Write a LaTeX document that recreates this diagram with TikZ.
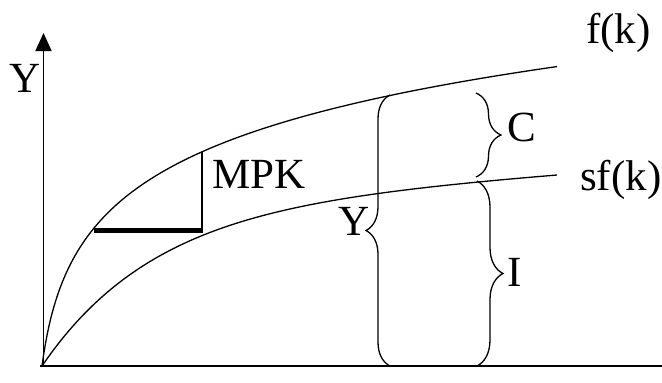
\documentclass[tikz,border=0pt]{standalone}
\usepackage{fontspec}
\setmainfont{Liberation Serif}
\usetikzlibrary{arrows.meta,decorations.pathreplacing}
\begin{document}
\begin{tikzpicture}[x=1pt,y=-1pt,
  curve/.style={line width=1.3pt},
  axisline/.style={line width=1.8pt},
  lbl/.style={inner sep=0pt,font=\fontsize{43}{50}\selectfont},
  bracedec/.style={line width=1.3pt, decorate, decoration={brace, amplitude=#1}},
]
\useasboundingbox (0,0) rectangle (662,383);
% axes
\coordinate (O) at (43.5,366);
\coordinate (ytip) at (43.5,33);
\coordinate (xstart) at (40,366);
\coordinate (xend) at (662,366);
\draw[axisline,-{Triangle[length=18pt,width=16pt]}] (O) -- (ytip);
\draw[axisline] (xstart) -- (xend);
% f(k)
\draw[curve] plot[domain=0:515, samples=300, variable=\u]
  ({42+\u},{366-75.6*ln(1+\u/10)});
% sf(k)
\draw[curve] plot[domain=0:515, samples=300, variable=\u]
  ({42+\u},{366-157.6*(1-exp(-\u/112.7))-0.068*\u});
% MPK triangle
\coordinate (mpkA) at (94,230.7);
\coordinate (mpkB) at (202,230.7);
\coordinate (mpkC) at ({202},{366-75.6*ln(1+160/10)});
\draw[line width=5pt] (mpkA) -- (mpkB);
\draw[line width=1.5pt] (mpkB |- 0,233) -- (mpkC);
% braces
\coordinate (ybB) at (390,366);
\coordinate (ybT) at (390,95);
\draw[bracedec=24pt] (ybB) -- (ybT);
\coordinate (cbT) at (476,93);
\coordinate (cbB) at (476,177);
\draw[bracedec=25pt] (cbT) -- (cbB);
\coordinate (ibT) at (477,181);
\coordinate (ibB) at (477,366);
\draw[bracedec=26pt] (ibT) -- (ibB);
% labels
\node[lbl,anchor=base west] (ylab) at (9,92) {Y};
\node[lbl,anchor=base west] (mpk) at (212,188) {MPK};
\node[lbl,anchor=base] (ybr) at (354,235) {Y};
\node[lbl,anchor=base] (clab) at (522,141) {C};
\node[lbl,anchor=base] (ilab) at (514.5,286.5) {I};
\node[lbl,anchor=base west] (fk) at (586,43) {f(k)};
\node[lbl,anchor=base west] (sfk) at (580,190) {sf(k)};
\end{tikzpicture}
\end{document}
